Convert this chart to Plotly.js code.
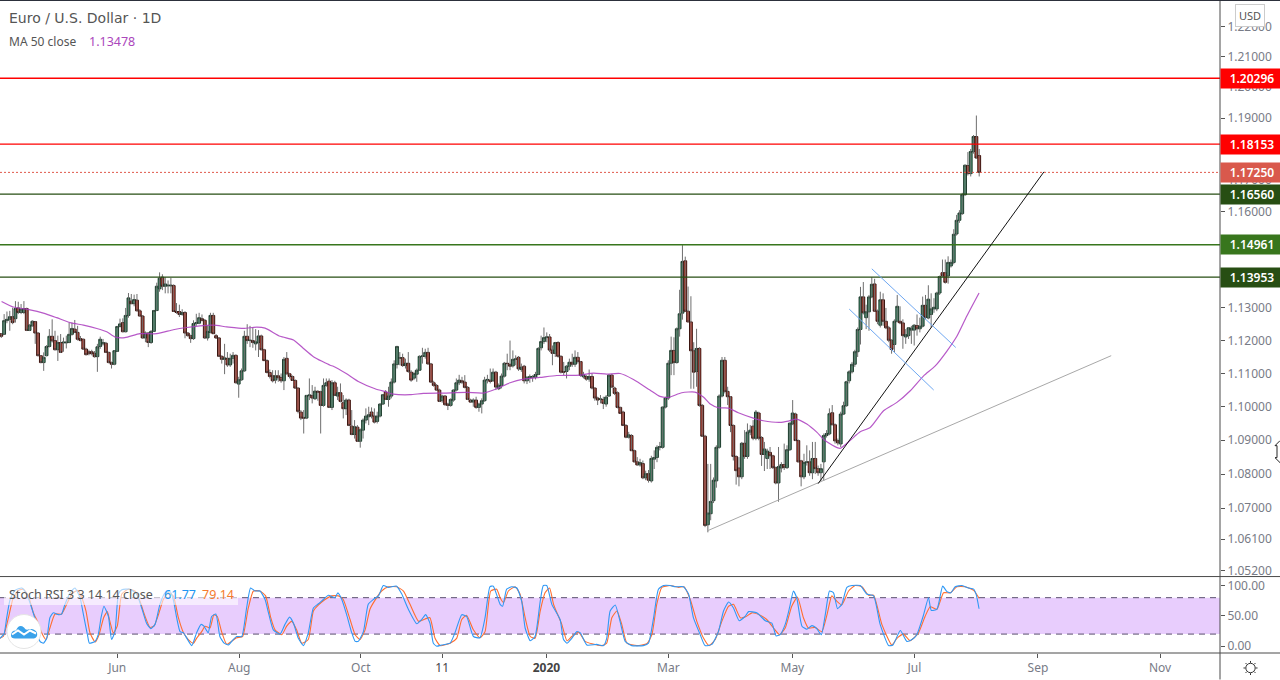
<!DOCTYPE html>
<html><head><meta charset="utf-8">
<script src="https://cdn.plot.ly/plotly-3.0.1.min.js"></script>
<style>html,body{margin:0;padding:0;background:#fff;overflow:hidden}#c{width:1280px;height:680px}</style>
</head><body><div id="c"></div>
<script>
const opens=[1.1221,1.1219,1.1261,1.1265,1.1273,1.1267,1.1300,1.1286,1.1286,1.1298,
1.1231,1.1245,1.1258,1.1223,1.1154,1.1133,1.1154,1.1182,1.1213,1.1200,
1.1172,1.1194,1.1193,1.1193,1.1194,1.1219,1.1235,1.1225,1.1206,1.1204,
1.1174,1.1166,1.1166,1.1161,1.1151,1.1182,1.1190,1.1192,1.1164,1.1133,
1.1128,1.1167,1.1243,1.1255,1.1227,1.1277,1.1321,1.1313,1.1324,1.1291,
1.1275,1.1208,1.1223,1.1194,1.1228,1.1292,1.1359,1.1395,1.1367,1.1368,
1.1368,1.1369,1.1289,1.1289,1.1280,1.1286,1.1223,1.1215,1.1206,1.1252,
1.1253,1.1267,1.1262,1.1208,1.1225,1.1277,1.1215,1.1208,1.1152,1.1143,
1.1146,1.1126,1.1146,1.1155,1.1068,1.1081,1.1108,1.1213,1.1200,1.1200,
1.1190,1.1194,1.1214,1.1172,1.1139,1.1103,1.1093,1.1080,1.1093,1.1088,
1.1078,1.1146,1.1099,1.1091,1.1079,1.1056,1.0984,1.0968,1.0966,1.1033,
1.1034,1.1024,1.1046,1.1045,1.1004,1.1064,1.1077,1.0998,1.1072,1.1032,
1.1042,1.1012,1.0994,1.1020,1.0942,1.0917,1.0939,1.0897,1.0930,1.0960,
1.0970,1.0984,1.0972,1.0956,1.0972,1.1008,1.1044,1.1022,1.1032,1.1074,
1.1127,1.1146,1.1148,1.1124,1.1131,1.1104,1.1086,1.1098,1.1110,1.1152,
1.1152,1.1164,1.1129,1.1072,1.1064,1.1050,1.1018,1.1032,1.1008,1.1004,
1.1020,1.1050,1.1072,1.1078,1.1074,1.1058,1.1020,1.1014,1.1020,1.0998,
1.1008,1.1018,1.1080,1.1080,1.1078,1.1104,1.1054,1.1064,1.1092,1.1131,
1.1128,1.1123,1.1143,1.1149,1.1112,1.1122,1.1078,1.1088,1.1089,1.1089,
1.1097,1.1178,1.1197,1.1209,1.1211,1.1171,1.1161,1.1194,1.1152,1.1106,
1.1106,1.1122,1.1134,1.1128,1.1149,1.1136,1.1090,1.1091,1.1083,1.1091,
1.1056,1.1026,1.1022,1.1022,1.1008,1.1032,1.1095,1.1056,1.1042,1.0998,
1.0984,1.0944,1.0909,1.0914,1.0869,1.0836,1.0827,1.0831,1.0789,1.0801,
1.0780,1.0844,1.0849,1.0879,1.0879,1.0999,1.1026,1.1131,1.1170,1.1133,
1.1236,1.1284,1.1446,1.1290,1.1257,1.1169,1.1106,1.1176,1.1004,1.0912,
1.0652,1.0684,1.0722,1.0780,1.0879,1.1032,1.1140,1.1046,1.1030,1.0944,
1.0852,1.0818,1.0792,1.0891,1.0852,1.0924,1.0942,1.0906,1.0981,1.0908,
1.0858,1.0846,1.0864,1.0854,1.0819,1.0774,1.0818,1.0828,1.0819,1.0872,
1.0949,1.0978,1.0899,1.0839,1.0792,1.0834,1.0836,1.0804,1.0846,1.0816,
1.0804,1.0836,1.0914,1.0919,1.0982,1.0946,1.0899,1.0889,1.0978,1.1003,
1.1078,1.1105,1.1128,1.1166,1.1234,1.1334,1.1270,1.1288,1.1334,1.1374,
1.1290,1.1247,1.1325,1.1259,1.1239,1.1201,1.1188,1.1259,1.1259,1.1254,1.1211,
1.1215,1.1232,1.1232,1.1246,1.1236,1.1244,1.1308,1.1269,1.1280,1.1297,1.1297,
1.1346,1.1409,1.1409,1.1399,1.1430,1.1441,1.1530,1.1573,1.1594,1.1654,
1.1747,1.1721,1.1792,1.1840,1.1779];
const highs=[1.1223,1.1281,1.1289,1.1291,1.1301,1.1321,1.1319,1.1312,1.1321,1.1301,
1.1250,1.1262,1.1260,1.1225,1.1156,1.1164,1.1186,1.1235,1.1265,1.1230,
1.1215,1.1220,1.1209,1.1215,1.1255,1.1255,1.1263,1.1245,1.1214,1.1206,
1.1178,1.1172,1.1172,1.1168,1.1190,1.1212,1.1205,1.1196,1.1166,1.1136,
1.1170,1.1245,1.1267,1.1268,1.1300,1.1346,1.1343,1.1341,1.1343,1.1296,
1.1278,1.1228,1.1226,1.1232,1.1294,1.1378,1.1410,1.1404,1.1395,1.1385,
1.1393,1.1373,1.1315,1.1310,1.1296,1.1290,1.1226,1.1218,1.1262,1.1282,
1.1285,1.1280,1.1266,1.1245,1.1285,1.1285,1.1220,1.1210,1.1155,1.1190,
1.1165,1.1160,1.1165,1.1158,1.1090,1.1115,1.1230,1.1250,1.1245,1.1240,
1.1235,1.1232,1.1218,1.1175,1.1143,1.1112,1.1110,1.1110,1.1110,1.1100,
1.1150,1.1165,1.1102,1.1094,1.1082,1.1058,1.0990,1.0990,1.1035,1.1085,
1.1065,1.1060,1.1050,1.1048,1.1085,1.1085,1.1085,1.1080,1.1078,1.1060,
1.1070,1.1035,1.1025,1.1024,1.0990,1.0960,1.0945,1.0935,1.0965,1.0995,
1.1000,1.0998,1.0995,1.0985,1.1010,1.1038,1.1050,1.1060,1.1085,1.1140,
1.1184,1.1165,1.1160,1.1145,1.1165,1.1110,1.1105,1.1115,1.1155,1.1178,
1.1175,1.1178,1.1132,1.1078,1.1068,1.1054,1.1036,1.1035,1.1012,1.1025,
1.1052,1.1085,1.1096,1.1090,1.1095,1.1062,1.1024,1.1025,1.1030,1.1012,
1.1025,1.1090,1.1096,1.1115,1.1115,1.1108,1.1070,1.1100,1.1135,1.1160,
1.1200,1.1170,1.1155,1.1153,1.1130,1.1126,1.1090,1.1097,1.1095,1.1105,
1.1180,1.1215,1.1240,1.1225,1.1220,1.1185,1.1196,1.1198,1.1155,1.1135,
1.1125,1.1145,1.1160,1.1170,1.1165,1.1138,1.1105,1.1095,1.1112,1.1100,
1.1058,1.1030,1.1035,1.1030,1.1035,1.1098,1.1099,1.1060,1.1046,1.1000,
1.0988,1.0948,1.0925,1.0918,1.0872,1.0850,1.0845,1.0840,1.0810,1.0812,
1.0854,1.0870,1.0885,1.0895,1.1000,1.1030,1.1140,1.1212,1.1210,1.1240,
1.1356,1.1495,1.1459,1.1366,1.1336,1.1195,1.1236,1.1180,1.1008,1.0916,
1.0830,1.0830,1.0790,1.0885,1.1037,1.1150,1.1150,1.1060,1.1032,1.0947,
1.0855,1.0850,1.0895,1.0930,1.0950,1.0945,1.0960,1.0990,1.0985,1.0912,
1.0895,1.0875,1.0880,1.0857,1.0822,1.0880,1.0835,1.0890,1.0885,1.0952,
1.1020,1.0982,1.0902,1.0842,1.0860,1.0885,1.0870,1.0895,1.0895,1.0825,
1.0830,1.0920,1.0930,1.0995,1.1005,1.0950,1.0905,1.0985,1.1015,1.1078,
1.1110,1.1135,1.1172,1.1240,1.1365,1.1380,1.1310,1.1340,1.1395,1.1390,
1.1295,1.1350,1.1345,1.1300,1.1245,1.1204,1.1265,1.1340,1.1305,1.1265,1.1235,
1.1240,1.1245,1.1250,1.1280,1.1270,1.1335,1.1340,1.1370,1.1345,1.1330,1.1350,
1.1400,1.1450,1.1450,1.1460,1.1450,1.1545,1.1590,1.1605,1.1660,1.1750,
1.1790,1.1800,1.1845,1.1908,1.1800];
const lows=[1.1208,1.1217,1.1253,1.1230,1.1250,1.1255,1.1281,1.1281,1.1281,1.1229,
1.1229,1.1243,1.1190,1.1152,1.1131,1.1108,1.1152,1.1179,1.1194,1.1170,
1.1138,1.1162,1.1166,1.1176,1.1192,1.1215,1.1223,1.1200,1.1198,1.1172,
1.1155,1.1155,1.1155,1.1148,1.1105,1.1175,1.1185,1.1162,1.1131,1.1115,
1.1125,1.1165,1.1240,1.1225,1.1225,1.1270,1.1312,1.1305,1.1290,1.1275,
1.1206,1.1195,1.1180,1.1190,1.1226,1.1290,1.1350,1.1355,1.1345,1.1345,
1.1345,1.1288,1.1282,1.1272,1.1276,1.1207,1.1212,1.1193,1.1202,1.1245,
1.1250,1.1260,1.1205,1.1200,1.1222,1.1221,1.1205,1.1150,1.1130,1.1098,
1.1120,1.1120,1.1130,1.1070,1.1027,1.1078,1.1105,1.1190,1.1180,1.1178,
1.1170,1.1150,1.1170,1.1139,1.1100,1.1085,1.1073,1.1070,1.1075,1.1072,
1.1050,1.1097,1.1085,1.1078,1.1055,1.0980,1.0960,1.0920,1.0963,1.1020,
1.1010,1.1020,1.1018,1.0920,1.1000,1.1060,1.0996,1.0990,1.1032,1.1020,
1.1013,1.0965,1.0975,1.0942,1.0915,1.0905,1.0895,1.0878,1.0905,1.0950,
1.0945,1.0965,1.0950,1.0950,1.0968,1.1005,1.1020,1.1000,1.1025,1.1070,
1.1115,1.1125,1.1120,1.1115,1.1102,1.1075,1.1080,1.1075,1.1108,1.1130,
1.1145,1.1127,1.1072,1.1060,1.1048,1.1014,1.1012,1.1003,1.0990,1.1000,
1.1015,1.1046,1.1065,1.1068,1.1055,1.1020,1.1012,1.1000,1.0994,1.0985,
1.0980,1.1015,1.1070,1.1070,1.1075,1.1050,1.1050,1.1055,1.1088,1.1110,
1.1110,1.1118,1.1125,1.1108,1.1105,1.1070,1.1068,1.1072,1.1075,1.1082,
1.1095,1.1170,1.1190,1.1195,1.1165,1.1125,1.1150,1.1148,1.1100,1.1095,
1.1085,1.1110,1.1120,1.1120,1.1130,1.1090,1.1085,1.1078,1.1075,1.1052,
1.1018,1.1005,1.1010,1.0993,1.1000,1.1030,1.1058,1.1035,1.0995,1.0978,
1.0942,1.0906,1.0905,1.0868,1.0835,1.0825,1.0822,1.0785,1.0782,1.0775,
1.0775,1.0815,1.0835,1.0870,1.0875,1.0995,1.1020,1.1095,1.1095,1.1130,
1.1212,1.1264,1.1290,1.1256,1.1054,1.1054,1.1060,1.1000,1.0910,1.0645,
1.0630,1.0665,1.0715,1.0760,1.0875,1.1028,1.1040,1.1005,1.0924,1.0840,
1.0769,1.0764,1.0785,1.0845,1.0845,1.0915,1.0900,1.0900,1.0900,1.0824,
1.0809,1.0815,1.0815,1.0815,1.0770,1.0719,1.0805,1.0812,1.0815,1.0868,
1.0945,1.0898,1.0835,1.0764,1.0785,1.0825,1.0795,1.0785,1.0800,1.0795,
1.0780,1.0780,1.0908,1.0915,1.0945,1.0890,1.0885,1.0880,1.0975,1.1000,
1.1070,1.1100,1.1120,1.1150,1.1188,1.1280,1.1235,1.1230,1.1330,1.1290,
1.1250,1.1240,1.1245,1.1235,1.1195,1.1160,1.1165,1.1255,1.1250,1.1175,1.1190,
1.1205,1.1190,1.1185,1.1215,1.1225,1.1240,1.1265,1.1265,1.1240,1.1285,1.1290,
1.1340,1.1395,1.1375,1.1375,1.1425,1.1435,1.1525,1.1565,1.1590,1.1650,
1.1715,1.1712,1.1785,1.1770,1.1712];
const closes=[1.1213,1.1261,1.1265,1.1273,1.1255,1.1298,1.1286,1.1296,1.1298,1.1231,
1.1247,1.1259,1.1223,1.1154,1.1133,1.1149,1.1182,1.1213,1.1199,1.1172,
1.1194,1.1164,1.1195,1.1195,1.1219,1.1237,1.1225,1.1204,1.1200,1.1174,
1.1157,1.1160,1.1160,1.1151,1.1181,1.1204,1.1194,1.1164,1.1133,1.1128,
1.1169,1.1243,1.1251,1.1227,1.1277,1.1331,1.1313,1.1326,1.1291,1.1275,
1.1208,1.1223,1.1194,1.1228,1.1292,1.1367,1.1392,1.1367,1.1374,1.1370,
1.1370,1.1289,1.1286,1.1280,1.1286,1.1223,1.1215,1.1206,1.1252,1.1255,
1.1270,1.1261,1.1208,1.1228,1.1277,1.1221,1.1208,1.1152,1.1143,1.1147,
1.1126,1.1146,1.1155,1.1072,1.1081,1.1108,1.1213,1.1200,1.1201,1.1194,
1.1196,1.1214,1.1172,1.1139,1.1103,1.1091,1.1078,1.1093,1.1087,1.1078,
1.1143,1.1099,1.1091,1.1079,1.1056,1.0986,1.0966,1.0966,1.1034,1.1035,
1.1026,1.1047,1.1044,1.1004,1.1064,1.1072,1.0998,1.1072,1.1034,1.1042,
1.1016,1.0994,1.1020,1.0944,1.0917,1.0940,1.0897,1.0931,1.0960,1.0972,
1.0976,1.0972,1.0954,1.0972,1.1008,1.1036,1.1022,1.1032,1.1074,1.1129,
1.1182,1.1148,1.1124,1.1131,1.1106,1.1080,1.1100,1.1110,1.1152,1.1153,
1.1164,1.1129,1.1074,1.1064,1.1050,1.1016,1.1032,1.1006,1.1004,1.1022,
1.1050,1.1072,1.1080,1.1074,1.1058,1.1022,1.1014,1.1020,1.0998,1.1008,
1.1018,1.1080,1.1082,1.1076,1.1104,1.1059,1.1064,1.1092,1.1131,1.1130,
1.1122,1.1143,1.1144,1.1114,1.1119,1.1078,1.1089,1.1090,1.1091,1.1097,
1.1176,1.1197,1.1209,1.1211,1.1171,1.1161,1.1194,1.1152,1.1104,1.1104,
1.1122,1.1134,1.1128,1.1149,1.1136,1.1094,1.1096,1.1083,1.1091,1.1056,
1.1026,1.1020,1.1023,1.1010,1.1029,1.1095,1.1059,1.1040,1.0998,1.0980,
1.0944,1.0909,1.0916,1.0869,1.0836,1.0827,1.0834,1.0789,1.0801,1.0782,
1.0846,1.0849,1.0879,1.0881,1.0999,1.1026,1.1131,1.1170,1.1133,1.1236,
1.1282,1.1444,1.1290,1.1257,1.1169,1.1104,1.1176,1.1004,1.0912,1.0650,
1.0686,1.0720,1.0782,1.0879,1.1032,1.1140,1.1046,1.1030,1.0944,1.0852,
1.0810,1.0792,1.0891,1.0852,1.0924,1.0930,1.0906,1.0984,1.0906,1.0858,
1.0874,1.0868,1.0854,1.0819,1.0774,1.0822,1.0828,1.0819,1.0872,1.0951,
1.0981,1.0899,1.0836,1.0792,1.0834,1.0836,1.0804,1.0846,1.0816,1.0804,
1.0816,1.0914,1.0920,1.0979,1.0946,1.0898,1.0892,1.0978,1.1003,1.1075,
1.1105,1.1128,1.1166,1.1234,1.1334,1.1285,1.1288,1.1334,1.1373,1.1290,
1.1259,1.1325,1.1259,1.1239,1.1201,1.1173,1.1259,1.1305,1.1254,1.1215,1.1218,
1.1239,1.1238,1.1247,1.1236,1.1244,1.1308,1.1271,1.1327,1.1297,1.1302,1.1346,
1.1397,1.1399,1.1379,1.1441,1.1441,1.1529,1.1573,1.1596,1.1654,1.1748,
1.1721,1.1792,1.1840,1.1771,1.1725];

const maIdx=[0.1,4.2,10.1,14.8,19.5,24.2,28.9,33.6,37.1,40,43.5,48.8,54.7,60.5,65.2,69.9,74.6,79.3,85.2,89.9,92.8,98.1,102.8,106.3,109.8,115.7,
116.8,121.5,125.6,131.5,135.6,137.9,143.8,148.5,155.5,163.7,169.6,174.3,179,183.7,189.5,195.4,203.6,208.3,213,217.7,222.4,228.2,
231.7,234.7,239.4,244,247,249.3,252.3,255.8,259.3,264.6,268.1,274,276.9,279.8,283.4,286.9,289.8,295.1,298.7,302.2,305.7,310.4,315.1,319.8,324.5,328.6,332.7,336.2,339.7,344];
const maVal=[1.1320,1.1303,1.1294,1.1284,1.1270,1.1255,1.1247,1.1237,1.1227,1.1211,1.1209,1.1221,1.1221,1.1233,1.1240,1.1245,1.1247,1.1242,1.1237,1.1241,1.1238,1.1213,1.1202,1.1176,1.1151,1.1125,
1.1122,1.1099,1.1076,1.1054,1.1044,1.1038,1.1036,1.1040,1.1041,1.1043,1.1041,1.1054,1.1072,1.1083,1.1088,1.1094,1.1095,1.1101,1.1098,1.1100,1.1082,1.1050,
1.1031,1.1028,1.1042,1.1044,1.1029,1.1009,1.0997,1.0996,1.0982,1.0966,1.0958,1.0953,1.0957,1.0963,1.0948,1.0924,1.0899,1.0876,1.0900,1.0925,1.0938,1.0988,1.1013,1.1048,1.1093,1.1123,1.1168,1.1213,1.1275,1.1346];

const kIdx=[-0.5,0.95,1.9,3.1,4.8,7.2,8.9,10.7,12.4,13.6,14.8,16,17.1,18.3,20.1,21.2,22.4,24.2,25.9,27.7,28.9,30.3,31,33,34.1,35.1,36.1,37.7,38.8,40,41.2,42.4,45.3,47.6,49.4,51.1,52.6,54.1,55.8,57.6,59.4,60.5,61.7,62.9,64.1,67,68.7,70.3,71.3,72.8,74,75.5,76.9,78.4,79.9,81.6,82.8,84.6,86.3,87.7,89.3,91,92.8,94,95.7,98.1,99.8,101.4,102.8,104.5,106.3,108,109.8,111.6,113.3,115.1,117.4,118.4,119.8,121.5,123.3,124.5,125.6,127.4,129.1,130.9,132.7,134.4,136.2,139.1,140.9,143.2,146.2,147.9,149.3,150.8,152,153.2,154.9,157.9,159.6,162,163.7,166.1,168.4,170.2,171.9,173.1,175.5,
176.4,177.8,179.6,181.4,183.1,184.3,186.1,187.8,189.6,190.7,191.9,193.7,196.6,197.8,199,200.7,202.5,203.7,206,209.5,211.9,213,214.2,216,217.7,219.5,221.8,225.9,227.7,229.5,231.2,233,235.3,237.1,240,241.8,243.5,245.9,247.6,250,252.3,254.1,255.9,257.6,259.6,261.7,262.9,265.8,268.8,271.1,272.6,274,275.8,277.3,278.7,279.9,281.7,283.4,285.2,286.9,288.5,289.9,291.4,292.8,294.2,295.7,297.5,299.3,302.2,304.5,306.9,309.2,312.2,313.7,316.3,318.6,320.4,322.1,324.5,326.2,327.2,329.2,331.2,332.7,334.1,335.6,338,340.3,342.1,343,344];
const kVal=[13,20,47,77,92,96,86,63,36,8,5,13,47,55,52,53,69,88,96,80,52,19,5,8,19,47,66,49,11,24,86,93,94,86,63,38,29,36,69,88,90,77,47,24,22,1,22,36,33,22,49,53,16,5,2,11,16,16,63,96,91,91,77,55,27,20,36,48,38,13,1,22,63,70,77,84,80,88,77,52,22,8,8,24,69,77,83,100,97,99,86,61,37,44,52,38,5,0,2,5,22,52,49,16,14,47,98,99,69,
66,94,98,96,74,30,9,16,74,100,100,69,44,11,5,13,24,22,2,3,1,13,58,68,41,8,1,1,5,47,94,100,100,98,98,86,47,19,1,3,24,58,73,63,42,49,57,55,42,38,17,19,36,63,91,79,33,28,34,29,19,52,91,88,62,69,97,100,100,86,83,36,1,2,26,8,11,19,52,80,59,61,99,90,88,98,100,96,94,85,61.77];
const dIdx=[-0.5,0.7,2.5,4.2,6,7.8,9.5,11.3,13,14.2,15.7,17.1,18.9,21.2,23,24.8,26.8,28.3,29.8,31.2,33,34.4,36,37.3,38.2,39.4,40.8,42.4,44.7,47,48.8,50.6,52.3,53.7,55.3,57,58.8,60.5,62.3,64.1,65.8,67.6,68.7,70.5,71.7,73.4,74.8,76,77.5,79.3,81,82.8,84.9,86.9,88.7,91,93,94.8,96.3,98.7,100.4,102.2,103.9,105.7,108,109.8,111.6,113.9,116.2,118.6,120.3,122.7,124.5,126.2,128,129.7,131.5,133.8,136.2,139.1,141.5,143.8,146.8,149.1,150.8,152.6,154.4,157.9,160.2,162,163.7,166.1,168.4,170.2,172.2,174.3,175.5,
176.7,178.4,180.8,182.5,184.3,186.1,187.8,189.6,191.3,192.9,194.3,197.2,199,200.7,203.1,205.4,207.8,211.3,213,214.8,216.6,218.3,220.1,223.6,227.1,228.9,230.6,232.4,235.3,238.3,240.2,242.4,244.7,247.1,249,251.2,253.5,255.9,257.6,260,261.7,264.1,267,269.3,271.7,273.8,275.8,278.1,280.1,282.2,284,286.3,288.7,290.5,292.2,294,295.7,298.1,300.4,302.8,305.1,306.9,309.8,313.3,315.1,317.4,319.8,322.7,325,326.8,329.2,331.5,333.9,336.2,339.1,342.1,344];
const dVal=[13,16,47,80,92,94,83,55,38,22,11,30,53,53,69,86,92,80,58,22,7,19,47,57,41,22,33,86,94,91,74,49,31,33,52,77,88,83,47,22,11,5,13,24,33,30,52,49,24,3,8,14,16,63,91,91,83,47,27,19,33,41,27,5,11,58,68,77,83,83,77,44,19,11,27,61,76,91,98,98,91,69,41,45,47,13,1,5,13,44,51,27,14,24,91,94,80,
72,91,98,86,47,16,13,58,88,96,69,36,9,16,23,8,4,1,5,47,58,36,5,1,4,19,69,97,100,97,98,77,41,13,1,11,41,66,69,47,48,55,51,44,30,19,30,66,81,47,30,31,24,52,83,74,68,91,100,98,84,84,36,2,13,20,9,22,49,65,61,88,88,98,98,92,79.14];

const priceLevels=[1.20296,1.18153,1.1725,1.1656,1.14961,1.13953];
const levelLabels=['1.20296','1.18153','1.17250','1.16560','1.14961','1.13953'];
const levelColors=['#ff0000','#ff0000','#e0584a','#274e13','#38761d','#274e13'];
const levelBg=['#ff0000','#ff0000','#d9594c','#274e13','#38761d','#274e13'];
const priceTicks=[1.22,1.21,1.19,1.16,1.13,1.12,1.11,1.10,1.09,1.08,1.07,1.061,1.052,1.20,1.17];
const priceTickText=['1.22000','1.21000','1.19000','1.16000','1.13000','1.12000','1.11000','1.10000','1.09000','1.08000','1.07000','1.06100','1.05200','1.20000','1.17000'];
const stochTicks=[100,50,0];
const stochTickText=['100.00','50.00','0.00'];
const timeTicks=[41,84.2,127.2,156,192.9,236,279.9,323.1,366.8,410];
const timeLabels=['Jun','Aug','Oct','<span style="color:#444">11</span>','<b style="color:#444">2020</b>','Mar','May','Jul','Sep','Nov'];
const blackIdx=[289,368.9], blackVal=[1.07719,1.17267];
const grayIdx=[250,392.7], grayVal=[1.0635,1.1154];
const chanAIdx=[308,337.7], chanAVal=[1.14211,1.1179];
const chanBIdx=[300,329.9], chanBVal=[1.12965,1.10502];

const W=1220,H=653.5,FONT='"Noto Sans","DejaVu Sans",sans-serif';
const px=x=>x/W, py=y=>1-y/H;
const xr=[-0.46,431.2];
const GRID=1.00566; // the line series above were read on a session grid slightly coarser than the candles'
const onGrid=a=>a.map(v=>v*GRID);
const idx=opens.map((_,i)=>i);
const bodyHi=opens.map((o,i)=>Math.max(o,closes[i]));
const bodyLo=opens.map((o,i)=>Math.min(o,closes[i]));
const traces=[];
priceLevels.forEach((p,i)=>traces.push({type:'scatter',mode:'lines',x:xr,y:[p,p],hoverinfo:'skip',
  line:{color:levelColors[i],width:i===2?1:1.3,dash:i===2?'2px,2px':'solid'}}));
traces.push({type:'scatter',mode:'lines',x:grayIdx,y:grayVal,line:{color:'#a8a8a8',width:1},hoverinfo:'skip'});
traces.push({type:'scatter',mode:'lines',x:onGrid(maIdx),y:maVal,line:{color:'rgba(170,60,190,0.85)',width:1.2,shape:'spline',smoothing:0.6},hoverinfo:'skip'});
traces.push({type:'ohlc',x:idx,open:opens,high:highs,low:lows,close:closes,tickwidth:0,
  increasing:{line:{color:'#6e6e6e',width:1}},decreasing:{line:{color:'#6e6e6e',width:1}},hoverinfo:'skip'});
traces.push({type:'candlestick',x:idx,open:opens,high:bodyHi,low:bodyLo,close:closes,whiskerwidth:0,
  increasing:{line:{color:'#1d3b2c',width:1},fillcolor:'#3a9068'},
  decreasing:{line:{color:'#3b1510',width:1},fillcolor:'#cf3a2a'},hoverinfo:'skip'});
traces.push({type:'scatter',mode:'lines',x:blackIdx,y:blackVal,line:{color:'#111',width:1},hoverinfo:'skip'});
traces.push({type:'scatter',mode:'lines',x:chanAIdx,y:chanAVal,line:{color:'#6fa8f2',width:1},hoverinfo:'skip'});
traces.push({type:'scatter',mode:'lines',x:chanBIdx,y:chanBVal,line:{color:'#6fa8f2',width:1},hoverinfo:'skip'});
traces.push({type:'scatter',mode:'lines',x:onGrid(dIdx),y:dVal,yaxis:'y2',line:{color:'#ff6d2e',width:1.1,shape:'spline',smoothing:0.5},hoverinfo:'skip'});
traces.push({type:'scatter',mode:'lines',x:onGrid(kIdx),y:kVal,yaxis:'y2',line:{color:'#2f98f5',width:1.1,shape:'spline',smoothing:0.5},hoverinfo:'skip'});

const annotations=priceLevels.map((p,i)=>({xref:'paper',yref:'y',x:1,y:Math.log10(p),xanchor:'left',yanchor:'middle',
  text:levelLabels[i],showarrow:false,width:60,height:17,bgcolor:levelBg[i],align:'center',borderpad:1,
  font:{family:FONT,size:12,color:'#fff',weight:600}}));
const note=(x,y,text,size,color,anchor,family)=>({xref:'paper',yref:'paper',x:px(x),y:py(y),xanchor:anchor||'left',yanchor:'middle',
  text,showarrow:false,font:{family:family||FONT,size,color},borderpad:0});
annotations.push(note(8,18,'Euro / U.S. Dollar · 1D',14,'#555','left','"DejaVu Sans",sans-serif'));
annotations.push(note(8,41.5,'MA 50 close',12,'#555'));
annotations.push(note(88,41.5,'1.13478',12.5,'#ab47bc'));
annotations.push(note(8,594.5,'Stoch RSI 3 3 14 14 close',12.5,'#555'));
annotations.push(note(163,594.5,'61.77',12.5,'#2196f3'));
annotations.push(note(201,594.5,'79.14',12.5,'#f57c2e'));
annotations.push({...note(1250,16,'USD',11,'#555','center'),bgcolor:'#fff',bordercolor:'#ccc',borderwidth:1,borderpad:3});

const svg=s=>'data:image/svg+xml;utf8,'+encodeURIComponent(s);
const logo=svg('<svg xmlns="http://www.w3.org/2000/svg" viewBox="0 0 36 36"><circle cx="18" cy="18" r="17" fill="#fff" stroke="#e4e4e4" stroke-width="1"/><path d="M5 22 q0 -5 5 -5 q3 -7 8 -3 q2 3 4 2 q6 -2 9 3 q1 5 -3 6 l-19 0 q-4 0 -4 -3z" fill="#3aa2ea"/><path d="M6 21 l6 -4 l6 4 l6 -4 l6 3" fill="none" stroke="#fff" stroke-width="2"/></svg>');
const cursor=svg('<svg xmlns="http://www.w3.org/2000/svg" viewBox="0 0 8 24"><path d="M7 1 L2 6 L4 6 L4 18 L2 18 L7 23" fill="#fff" stroke="#222" stroke-width="1"/></svg>');
const gear=svg('<svg xmlns="http://www.w3.org/2000/svg" viewBox="0 0 16 16"><circle cx="8" cy="8" r="5" fill="none" stroke="#222" stroke-width="1"/><path d="M8 0.5v2M8 13.5v2M0.5 8h2M13.5 8h2M2.7 2.7l1.4 1.4M11.9 11.9l1.4 1.4M2.7 13.3l1.4-1.4M11.9 4.1l1.4-1.4" stroke="#222" stroke-width="1"/></svg>');

const layout={width:1280,height:680,margin:{l:0,r:60,t:0,b:26.5,pad:0},paper_bgcolor:'#fff',plot_bgcolor:'#fff',showlegend:false,
  hovermode:false,font:{family:FONT,size:12,color:'#787b86'},boxgap:0,boxgroupgap:0,
  xaxis:{range:xr,anchor:'y2',tickmode:'array',tickvals:timeTicks,ticktext:timeLabels,ticks:'outside',ticklen:4,tickcolor:'#555',
    showgrid:false,zeroline:false,showline:false,rangeslider:{visible:false},tickfont:{family:FONT,size:12,color:'#787b86'}},
  yaxis:{type:'log',domain:[(H-577)/H,1],range:[Math.log10(1.05027),Math.log10(1.22887)],side:'right',showgrid:false,zeroline:false,
    tickmode:'array',tickvals:priceTicks,ticktext:priceTickText,ticks:'outside',ticklen:4,tickcolor:'#555',ticklabelshift:-1.5,tickfont:{family:FONT,size:12,color:'#787b86'},automargin:false},
  yaxis2:{domain:[0,(H-577.5)/H],range:[-11.2,114],side:'right',showgrid:false,zeroline:false,
    tickmode:'array',tickvals:stochTicks,ticktext:stochTickText,ticks:'outside',ticklen:4,tickcolor:'#555',tickfont:{family:FONT,size:12,color:'#787b86'},automargin:false},
  annotations,
  images:[{source:logo,xref:'paper',yref:'paper',x:px(6),y:py(614),sizex:36/W,sizey:36/H,xanchor:'left',yanchor:'top',sizing:'stretch',layer:'above'},
          {source:cursor,xref:'paper',yref:'paper',x:px(1273),y:py(440),sizex:8/W,sizey:24/H,xanchor:'left',yanchor:'top',sizing:'stretch',layer:'above'},
          {source:gear,xref:'paper',yref:'paper',x:px(1243),y:py(661),sizex:15/W,sizey:15/H,xanchor:'left',yanchor:'top',sizing:'stretch',layer:'above'}],
  shapes:[
    {type:'rect',xref:'paper',yref:'y2',x0:0,x1:1,y0:20,y1:80,fillcolor:'#e8cdfd',line:{width:0},layer:'below'},
    {type:'line',xref:'paper',yref:'y2',x0:0,x1:1,y0:80,y1:80,line:{color:'#5a4f6e',width:1,dash:'6px,5px'},layer:'below'},
    {type:'line',xref:'paper',yref:'y2',x0:0,x1:1,y0:20,y1:20,line:{color:'#5a4f6e',width:1,dash:'6px,5px'},layer:'below'},
    {type:'rect',xref:'paper',yref:'paper',x0:px(4),x1:px(238),y0:py(605.5),y1:py(586),fillcolor:'rgba(255,255,255,0.6)',line:{width:0},layer:'above'},
    {type:'line',xref:'paper',yref:'paper',x0:0,x1:1280/W,y0:py(577),y1:py(577),line:{color:'#4a4a4a',width:1},layer:'above'},
    {type:'line',xref:'paper',yref:'paper',x0:0,x1:1280/W,y0:py(653.5),y1:py(653.5),line:{color:'#4a4a4a',width:1},layer:'above'},
    {type:'line',xref:'paper',yref:'paper',x0:1,x1:1,y0:py(0),y1:py(680),line:{color:'#4a4a4a',width:1},layer:'above'},
    {type:'line',xref:'paper',yref:'paper',x0:0,x1:1280/W,y0:py(0.5),y1:py(0.5),line:{color:'#2a2e39',width:1},layer:'above'}
  ]};
Plotly.newPlot('c',traces,layout,{staticPlot:true,displayModeBar:false});
</script></body></html>
